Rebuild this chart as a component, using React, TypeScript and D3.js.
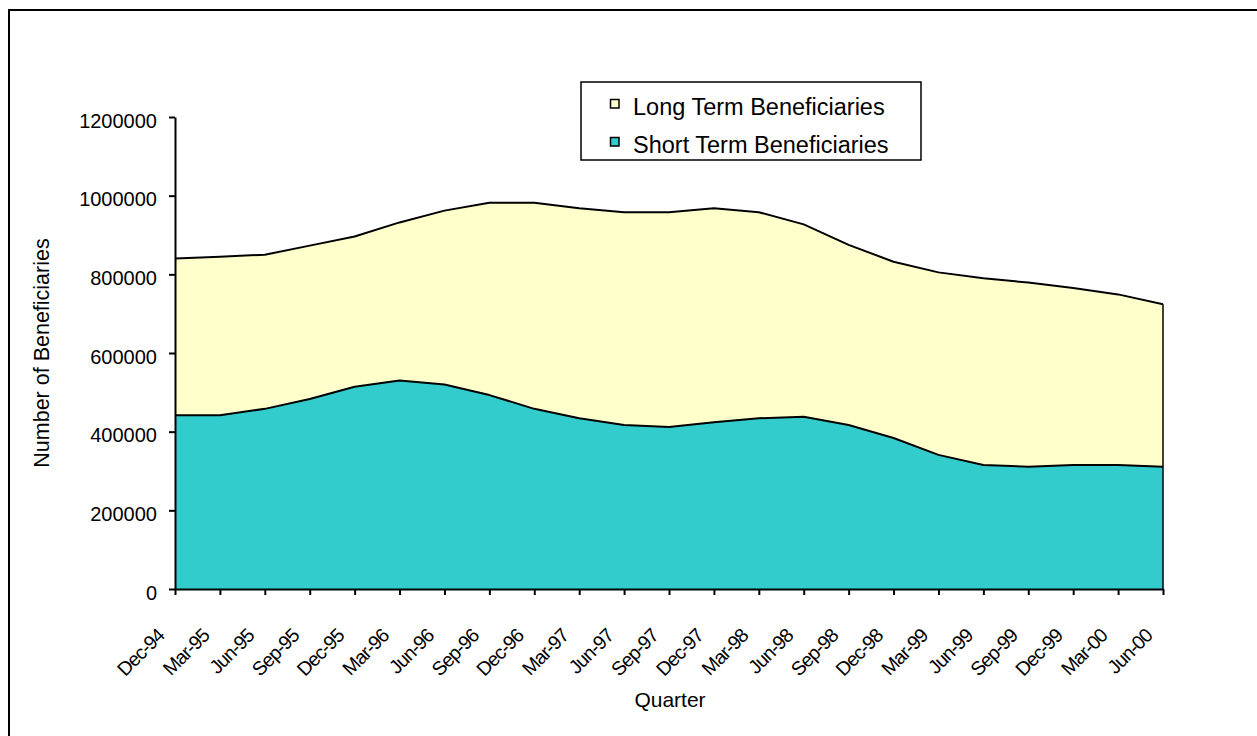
import React, { useRef, useEffect } from "react";
import * as d3 from "d3";

// Quarterly beneficiaries
const quarters = [
  "Dec-94", "Mar-95", "Jun-95", "Sep-95", "Dec-95", "Mar-96", "Jun-96", "Sep-96",
  "Dec-96", "Mar-97", "Jun-97", "Sep-97", "Dec-97", "Mar-98", "Jun-98", "Sep-98",
  "Dec-98", "Mar-99", "Jun-99", "Sep-99", "Dec-99", "Mar-00", "Jun-00",
];

const shortTerm = [
  442000, 442000, 458000, 483000, 514000, 530000, 520000, 493000,
  458000, 434000, 417000, 412000, 424000, 434000, 438000, 417000,
  384000, 341000, 315000, 311000, 315000, 315000, 311000,
];

const longTerm = [
  398000, 403000, 392000, 390000, 382000, 402000, 442000, 489000,
  524000, 534000, 541000, 546000, 544000, 524000, 489000, 458000,
  448000, 464000, 475000, 468000, 450000, 434000, 413000,
];

const yTicks = [0, 200000, 400000, 600000, 800000, 1000000, 1200000];

const seriesNames = ["Short Term Beneficiaries", "Long Term Beneficiaries"];
const seriesColors = ["#33cccc", "#ffffcc"];

const FONT = "'Liberation Sans', Arial, sans-serif";

export default function App() {
  const svgRef = useRef<SVGSVGElement | null>(null);

  useEffect(() => {
    const width = 1257;
    const height = 736;
    const svg = d3.select(svgRef.current);
    svg.selectAll("*").remove();
    svg.attr("width", width).attr("height", height);

    const margin = { top: 117, left: 175, right: 94, bottom: 147 };
    const innerW = width - margin.left - margin.right;
    const innerH = height - margin.top - margin.bottom;

    // Outer frame (only left and top edges fall inside the picture)
    svg.append("path")
      .attr("d", `M9,${height + 5}V10H${width + 5}`)
      .attr("fill", "none")
      .attr("stroke", "#000")
      .attr("stroke-width", 2);

    const g = svg.append("g")
      .attr("transform", `translate(${margin.left},${margin.top})`);

    const rows = quarters.map((q, i) => ({
      q,
      short: shortTerm[i],
      long: longTerm[i],
    }));

    const x = d3.scalePoint<string>().domain(quarters).range([0, innerW]);
    const y = d3.scaleLinear().domain([0, 1200000]).range([innerH, 0]);

    const stack = d3.stack<any>().keys(["short", "long"]);
    const layers = stack(rows);

    const area = d3.area<any>()
      .x((d) => x(d.data.q) as number)
      .y0((d) => y(d[0]))
      .y1((d) => y(d[1]));

    const line = d3.line<any>()
      .x((d) => x(d.data.q) as number)
      .y((d) => y(d[1]));

    layers.forEach((layer, i) => {
      g.append("path")
        .datum(layer)
        .attr("fill", seriesColors[i])
        .attr("stroke", "none")
        .attr("d", area);
    });

    layers.forEach((layer) => {
      g.append("path")
        .datum(layer)
        .attr("fill", "none")
        .attr("stroke", "#000")
        .attr("stroke-width", 2)
        .attr("stroke-linejoin", "round")
        .attr("d", line);
    });

    // right edge of the area
    const last = layers[1][layers[1].length - 1];
    g.append("line")
      .attr("x1", innerW).attr("x2", innerW)
      .attr("y1", y(last[1])).attr("y2", innerH)
      .attr("stroke", "#000")
      .attr("stroke-width", 1.5);

    // Y axis
    const yAxis = g.append("g")
      .call(d3.axisLeft(y).tickValues(yTicks).tickFormat(d3.format("d")).tickSize(6).tickSizeOuter(0).tickPadding(12));
    yAxis.select(".domain").attr("stroke-width", 2);
    yAxis.selectAll(".tick line").attr("stroke-width", 2);
    yAxis.selectAll(".tick text")
      .attr("font-family", FONT)
      .attr("font-size", 20)
      .attr("fill", "#000")
      .attr("dy", "0.5em");

    // X axis
    const xAxis = g.append("g")
      .attr("transform", `translate(0,${innerH})`)
      .call(d3.axisBottom(x).tickSize(6).tickSizeOuter(0));
    xAxis.select(".domain").attr("stroke-width", 2);
    xAxis.selectAll(".tick line").attr("stroke-width", 2);
    xAxis.selectAll(".tick text")
      .attr("font-family", FONT)
      .attr("font-size", 19.5)
      .attr("fill", "#000")
      .attr("text-anchor", "end")
      .attr("letter-spacing", "-1px")
      .attr("y", 0)
      .attr("dy", 0)
      .attr("transform", "translate(-10,48) rotate(-45)");

    // Axis titles
    svg.append("text")
      .attr("x", 670)
      .attr("y", 707)
      .attr("text-anchor", "middle")
      .attr("font-family", FONT)
      .attr("font-size", 21)
      .text("Quarter");

    svg.append("text")
      .attr("transform", `translate(49,${margin.top + innerH / 2}) rotate(-90)`)
      .attr("text-anchor", "middle")
      .attr("font-family", FONT)
      .attr("font-size", 21.5)
      .text("Number of Beneficiaries");

    // Legend
    const legend = svg.append("g").attr("transform", "translate(581,82)");
    legend.append("rect")
      .attr("width", 340)
      .attr("height", 78)
      .attr("fill", "#fff")
      .attr("stroke", "#000")
      .attr("stroke-width", 1.5);

    const legendItems = [1, 0];
    legendItems.forEach((si, row) => {
      const ly = 33 + row * 38;
      legend.append("rect")
        .attr("x", 29.5)
        .attr("y", ly - 15.5)
        .attr("width", 8.5)
        .attr("height", 8.5)
        .attr("fill", seriesColors[si])
        .attr("stroke", "#000")
        .attr("stroke-width", 1.5);
      legend.append("text")
        .attr("x", 52)
        .attr("y", ly)
        .attr("font-family", FONT)
        .attr("font-size", 23.5)
        .text(seriesNames[si]);
    });
  }, []);

  return (
    <div style={{ position: "absolute", left: 0, top: 0 }}>
      <svg ref={svgRef} style={{ display: "block" }} />
    </div>
  );
}
